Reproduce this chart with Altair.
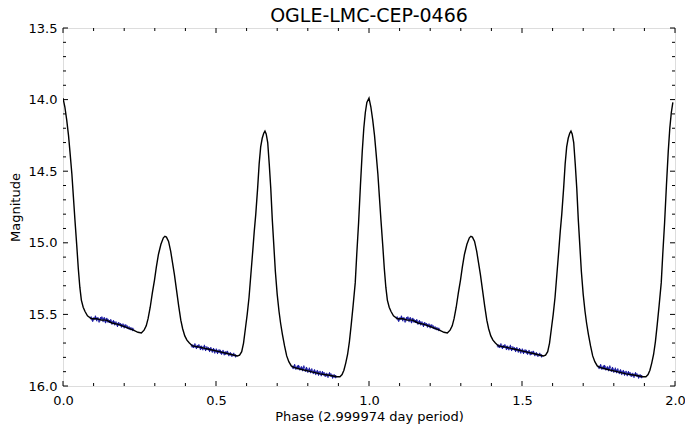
import altair as alt
import pandas as pd

TITLE = "OGLE-LMC-CEP-0466"
X_TITLE = "Phase (2.999974 day period)"
Y_TITLE = "Magnitude"

# model light curve over one cycle (phase, magnitude)
curve_phase = [0.000, 0.006, 0.012, 0.018, 0.023, 0.029, 0.034, 0.039, 0.045, 0.050,
               0.055, 0.060, 0.066, 0.072, 0.080, 0.093, 0.110, 0.125, 0.142, 0.160,
               0.180, 0.207, 0.230, 0.245, 0.256, 0.265, 0.272, 0.278, 0.285, 0.292,
               0.299, 0.305, 0.312, 0.320, 0.328, 0.333, 0.338, 0.345, 0.352, 0.358,
               0.364, 0.371, 0.378, 0.385, 0.391, 0.398, 0.405, 0.413, 0.423, 0.450,
               0.480, 0.510, 0.540, 0.560, 0.570, 0.577, 0.584, 0.590, 0.596, 0.602,
               0.608, 0.614, 0.620, 0.625, 0.630, 0.636, 0.641, 0.646, 0.651, 0.656,
               0.660, 0.664, 0.669, 0.674, 0.679, 0.684, 0.689, 0.694, 0.700, 0.706,
               0.711, 0.717, 0.724, 0.731, 0.738, 0.746, 0.754, 0.780, 0.810, 0.840,
               0.870, 0.895, 0.905, 0.912, 0.918, 0.924, 0.930, 0.936, 0.942, 0.948,
               0.955, 0.960, 0.966, 0.972, 0.978, 0.983, 0.988, 0.993]
curve_mag = [13.99, 14.05, 14.14, 14.25, 14.37, 14.52, 14.68, 14.84, 15.02, 15.18,
             15.31, 15.40, 15.45, 15.48, 15.51, 15.53, 15.53, 15.54, 15.54, 15.56,
             15.57, 15.59, 15.61, 15.625, 15.63, 15.61, 15.58, 15.53, 15.45, 15.35,
             15.26, 15.17, 15.08, 15.01, 14.965, 14.955, 14.96, 14.99, 15.06, 15.14,
             15.22, 15.33, 15.44, 15.54, 15.60, 15.65, 15.68, 15.70, 15.72, 15.73,
             15.745, 15.76, 15.775, 15.785, 15.79, 15.785, 15.76, 15.70, 15.60, 15.50,
             15.38, 15.22, 15.06, 14.92, 14.80, 14.62, 14.45, 14.33, 14.27, 14.235,
             14.22, 14.24, 14.30, 14.45, 14.62, 14.84, 15.02, 15.20, 15.36, 15.48,
             15.56, 15.64, 15.72, 15.79, 15.83, 15.86, 15.87, 15.885, 15.90, 15.915,
             15.925, 15.935, 15.935, 15.92, 15.89, 15.84, 15.78, 15.69, 15.57, 15.44,
             15.28, 15.08, 14.86, 14.60, 14.36, 14.20, 14.09, 14.02]

# observations (phase, magnitude, error)
obs_phase = [0.092, 0.097, 0.101, 0.106, 0.110, 0.114, 0.118, 0.123, 0.127, 0.131,
             0.135, 0.139, 0.143, 0.147, 0.152, 0.156, 0.160, 0.165, 0.169, 0.173,
             0.178, 0.182, 0.187, 0.191, 0.196, 0.200, 0.205, 0.210, 0.216, 0.222,
             0.228,
             0.422, 0.427, 0.431, 0.436, 0.440, 0.444, 0.449, 0.453, 0.457, 0.462,
             0.466, 0.470, 0.475, 0.479, 0.483, 0.488, 0.492, 0.496, 0.501, 0.505,
             0.510, 0.514, 0.518, 0.523, 0.527, 0.532, 0.537, 0.542, 0.547, 0.552,
             0.558, 0.564,
             0.752, 0.757, 0.761, 0.766, 0.770, 0.774, 0.779, 0.783, 0.787, 0.792,
             0.796, 0.800, 0.805, 0.809, 0.813, 0.818, 0.822, 0.826, 0.831, 0.835,
             0.840, 0.844, 0.848, 0.853, 0.857, 0.862, 0.866, 0.871, 0.876, 0.881,
             0.886, 0.891]
obs_mag = [15.525, 15.54, 15.53, 15.52, 15.535, 15.53, 15.545, 15.53, 15.525, 15.54,
           15.53, 15.55, 15.535, 15.545, 15.55, 15.545, 15.56, 15.55, 15.565, 15.56,
           15.575, 15.565, 15.57, 15.58, 15.575, 15.585, 15.58, 15.59, 15.595, 15.60,
           15.605,
           15.72, 15.725, 15.715, 15.73, 15.725, 15.72, 15.735, 15.73, 15.74, 15.725,
           15.745, 15.735, 15.74, 15.75, 15.74, 15.755, 15.745, 15.76, 15.75, 15.765,
           15.755, 15.76, 15.77, 15.76, 15.775, 15.77, 15.765, 15.78, 15.775, 15.785,
           15.78, 15.79,
           15.87, 15.86, 15.875, 15.87, 15.865, 15.88, 15.875, 15.885, 15.87, 15.89,
           15.88, 15.895, 15.885, 15.90, 15.89, 15.905, 15.895, 15.91, 15.90, 15.915,
           15.905, 15.92, 15.91, 15.915, 15.925, 15.92, 15.93, 15.915, 15.925, 15.935,
           15.93, 15.935]
obs_err = [0.010, 0.012, 0.009, 0.011, 0.013, 0.010, 0.012, 0.011, 0.009, 0.014,
           0.010, 0.012, 0.011, 0.013, 0.010, 0.012, 0.011, 0.009, 0.012, 0.010,
           0.013, 0.011, 0.010, 0.012, 0.011, 0.013, 0.010, 0.012, 0.011, 0.010,
           0.012,
           0.011, 0.010, 0.013, 0.012, 0.010, 0.011, 0.014, 0.012, 0.010, 0.013,
           0.011, 0.012, 0.010, 0.013, 0.011, 0.012, 0.010, 0.014, 0.011, 0.012,
           0.010, 0.013, 0.011, 0.012, 0.010, 0.013, 0.011, 0.012, 0.010, 0.011,
           0.012, 0.010,
           0.012, 0.013, 0.011, 0.014, 0.012, 0.011, 0.013, 0.012, 0.014, 0.011,
           0.013, 0.012, 0.014, 0.011, 0.013, 0.012, 0.011, 0.014, 0.012, 0.013,
           0.011, 0.012, 0.014, 0.013, 0.011, 0.012, 0.013, 0.011, 0.012, 0.014,
           0.012, 0.011]

x_major = [0.0, 0.5, 1.0, 1.5, 2.0]
x_minor = [0.1, 0.2, 0.3, 0.4, 0.6, 0.7, 0.8, 0.9, 1.1, 1.2, 1.3, 1.4, 1.6, 1.7, 1.8, 1.9]
y_major = [13.5, 14.0, 14.5, 15.0, 15.5, 16.0]
y_minor = [13.6, 13.7, 13.8, 13.9, 14.1, 14.2, 14.3, 14.4, 14.6, 14.7, 14.8, 14.9,
           15.1, 15.2, 15.3, 15.4, 15.6, 15.7, 15.8, 15.9]

W, H = 612, 358
FONT = "DejaVu Sans"

curve_df = pd.DataFrame({
    "phase": curve_phase + [p + 1 for p in curve_phase],
    "mag": curve_mag + curve_mag,
})
obs_df = pd.DataFrame({
    "phase": obs_phase + [p + 1 for p in obs_phase],
    "mag": obs_mag + obs_mag,
    "err": obs_err + obs_err,
})
obs_df["lo"] = obs_df["mag"] - obs_df["err"]
obs_df["hi"] = obs_df["mag"] + obs_df["err"]

xscale = alt.Scale(domain=[0, 2], nice=False, zero=False)
yscale = alt.Scale(domain=[13.5, 16.0], reverse=True, nice=False, zero=False)

x_axis = alt.Axis(title=X_TITLE, values=x_major, format=".1f", ticks=False, tickSize=0,
                  domain=False, grid=False, labelFlush=False, labelOverlap=False,
                  labelPadding=8, labelFont=FONT, labelFontSize=13, labelColor="black",
                  titleFont=FONT, titleFontSize=13, titleFontWeight="normal",
                  titleColor="black", titlePadding=3)
y_axis = alt.Axis(title=Y_TITLE, values=y_major, format=".1f", ticks=False, tickSize=0,
                  domain=False, grid=False, labelFlush=False, labelOverlap=False,
                  labelPadding=6, labelFont=FONT, labelFontSize=13, labelColor="black",
                  titleFont=FONT, titleFontSize=13, titleFontWeight="normal",
                  titleColor="black", titlePadding=6)

BLUE = "#1515a0"

err = alt.Chart(obs_df).mark_rule(color=BLUE, strokeWidth=1).encode(
    x=alt.X("phase:Q", scale=xscale, axis=x_axis),
    y=alt.Y("lo:Q", scale=yscale, axis=y_axis),
    y2="hi:Q",
)
pts = alt.Chart(obs_df).mark_point(shape="cross", size=8, filled=True, color=BLUE).encode(
    x=alt.X("phase:Q", scale=xscale),
    y=alt.Y("mag:Q", scale=yscale),
)
line = alt.Chart(curve_df).mark_line(color="black", strokeWidth=1.4, clip=True).encode(
    x=alt.X("phase:Q", scale=xscale),
    y=alt.Y("mag:Q", scale=yscale),
)

def xticks(vals, length):
    df = pd.DataFrame({"t": vals})
    bottom = alt.Chart(df).mark_rule(color="black", strokeWidth=1).encode(
        x=alt.X("t:Q", scale=xscale), y=alt.value(H), y2=alt.value(H - length))
    top = alt.Chart(df).mark_rule(color="black", strokeWidth=1).encode(
        x=alt.X("t:Q", scale=xscale), y=alt.value(0), y2=alt.value(length))
    return [bottom, top]

def yticks(vals, length):
    df = pd.DataFrame({"t": vals})
    left = alt.Chart(df).mark_rule(color="black", strokeWidth=1).encode(
        y=alt.Y("t:Q", scale=yscale), x=alt.value(0), x2=alt.value(length))
    right = alt.Chart(df).mark_rule(color="black", strokeWidth=1).encode(
        y=alt.Y("t:Q", scale=yscale), x=alt.value(W), x2=alt.value(W - length))
    return [left, right]

layers = [err, pts, line] + xticks(x_major, 5) + xticks(x_minor, 3) \
    + yticks(y_major, 5) + yticks(y_minor, 3)

chart = alt.layer(*layers).properties(
    width=W, height=H,
    title=alt.TitleParams(TITLE, font=FONT, fontSize=19, fontWeight="normal",
                          color="black", anchor="middle", offset=0, dy=4),
    autosize=alt.AutoSizeParams(type="none"),
    padding={"left": 55, "top": 20, "right": 10, "bottom": 40},
).configure_view(stroke="black", strokeWidth=1).configure(background="white")

chart.save("out.html", embed_options={"renderer": "svg", "actions": False})
